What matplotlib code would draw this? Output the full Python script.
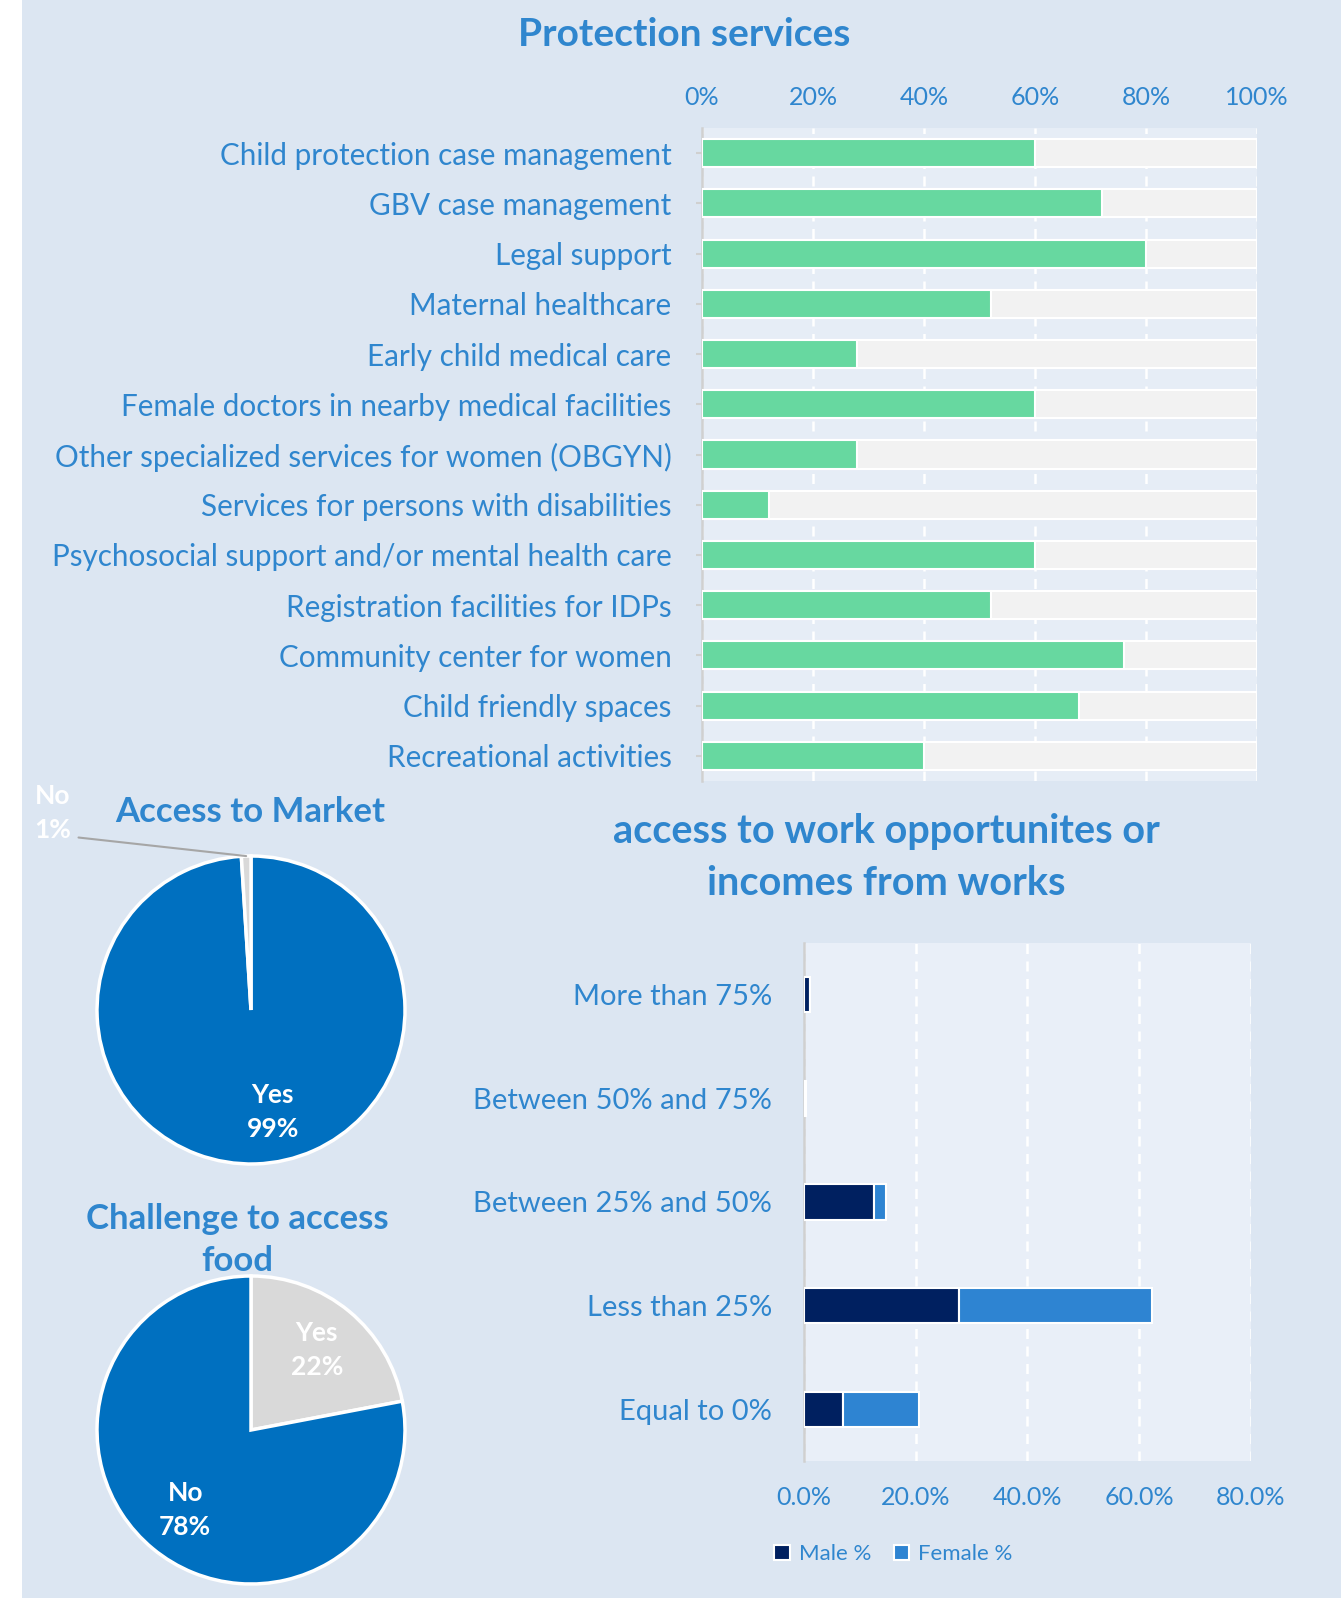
import matplotlib
matplotlib.use('Agg')
import matplotlib.pyplot as plt
from matplotlib.patches import FancyBboxPatch
import numpy as np

plt.rcParams['font.family'] = ['Lato', 'DejaVu Sans']

# ---- data ----
services = ['Child protection case management', 'GBV case management', 'Legal support',
            'Maternal healthcare', 'Early child medical care',
            'Female doctors in nearby medical facilities',
            'Other specialized services for women (OBGYN)',
            'Services for persons with disabilities',
            'Psychosocial support and/or mental health care',
            'Registration facilities for IDPs', 'Community center for women',
            'Child friendly spaces', 'Recreational activities']
service_pct = [60, 72, 80, 52, 28, 60, 28, 12, 60, 52, 76, 68, 40]
service_ticks = [0, 20, 40, 60, 80, 100]

market_labels = ['Yes', 'No']
market_pct = [99, 1]

food_labels = ['Yes', 'No']
food_pct = [22, 78]

work_cats = ['More than 75%', 'Between 50% and 75%', 'Between 25% and 50%',
             'Less than 25%', 'Equal to 0%']
male_pct = [1.1, 0.4, 12.6, 27.7, 7.0]
female_pct = [0.0, 0.0, 2.0, 34.6, 13.5]
work_ticks = [0, 20, 40, 60, 80]

# ---- styles ----
W, H = 1341, 1598
BG = '#DCE6F2'
PLOT_BG = '#E6EDF6'
TXT = '#2F86CE'
GREEN = '#67D8A0'
REST = '#F2F2F2'
BLUE = '#0070C0'
GREY = '#D9D9D9'
MALE = '#002060'
FEMALE = '#2E84D2'

fig = plt.figure(figsize=(W / 100, H / 100), dpi=100)
fig.patch.set_facecolor('white')
fig.patches.append(FancyBboxPatch((22 / W, -0.02), (W - 22) / W + 0.02, 1.04,
                                  boxstyle='round,pad=0,rounding_size=0.014',
                                  transform=fig.transFigure, facecolor=BG,
                                  edgecolor='none', zorder=-10,
                                  mutation_aspect=W / H))


def rect(left, top, right, bottom):
    return [left / W, 1 - bottom / H, (right - left) / W, (bottom - top) / H]


def ftext(x, y, s, **kw):
    fig.text(x / W, 1 - y / H, s, **kw)


# ---- protection services ----
ax = fig.add_axes(rect(702, 128, 1257, 781))
ax.set_facecolor(PLOT_BG)
y = np.arange(len(services))
ax.barh(y, [100] * len(services), height=0.56, color=REST, edgecolor='white', linewidth=1.5, zorder=2)
ax.barh(y, service_pct, height=0.56, color=GREEN, edgecolor='white', linewidth=1.5, zorder=3)
ax.set_xlim(0, 100)
ax.set_ylim(len(services) - 0.5, -0.5)
ax.set_yticks(y)
ax.set_yticklabels(services, fontsize=21.3, color=TXT)
ax.set_xticks(service_ticks)
ax.set_xticklabels([f'{t}%' for t in service_ticks], fontsize=18, color=TXT)
ax.xaxis.tick_top()
ax.tick_params(axis='x', length=0, pad=14)
ax.tick_params(axis='y', length=8, width=1.5, color='#D0D0D0', direction='inout', pad=18)
ax.grid(axis='x', color='white', linestyle=(0, (4, 3)), linewidth=1.8, zorder=1)
ax.set_axisbelow(True)
for s in ['top', 'right', 'bottom']:
    ax.spines[s].set_visible(False)
ax.spines['left'].set_color('#D0D0D0')
ax.spines['left'].set_linewidth(1.8)
ftext(684, 35, 'Protection services', fontsize=28, fontweight='bold', color=TXT,
      ha='center', va='center')

# ---- access to market pie ----
R = 154
LIM = 1.4
ax1 = fig.add_axes(rect(251 - LIM * R, 1010 - LIM * R, 251 + LIM * R, 1010 + LIM * R))
wedges, texts = ax1.pie(market_pct, colors=[BLUE, GREY], startangle=90, counterclock=False,
                        labels=[f'{l}\n{p}%' for l, p in zip(market_labels, market_pct)],
                        labeldistance=0.66, radius=1,
                        wedgeprops=dict(edgecolor='white', linewidth=2.5),
                        textprops=dict(color='white', fontsize=19, fontweight='bold',
                                       ha='center', va='center', linespacing=1.5))
ax1.set_xlim(-LIM, LIM)
ax1.set_ylim(-LIM, LIM)
ax1.set_aspect('equal')
ax1.axis('off')
# Excel nudges the big slice label a little to the right
tx, ty = texts[0].get_position()
texts[0].set_position((tx + 0.12, ty))
# outside label for the small slice
w = wedges[1]
mid = np.deg2rad((w.theta1 + w.theta2) / 2)
texts[1].set_visible(False)
ax1.annotate('', xy=(np.cos(mid), np.sin(mid)), xytext=(-1.12, 1.12),
             arrowprops=dict(arrowstyle='-', color='#A6A6A6', lw=1.5,
                             shrinkA=0, shrinkB=0))
ax1.text(-1.29, 1.28, f'{market_labels[1]}\n{market_pct[1]}%', color='white', fontsize=19,
         fontweight='bold', ha='center', va='center', linespacing=1.5)
ftext(250, 812, 'Access to Market', fontsize=25, fontweight='bold', color=TXT,
      ha='center', va='center')

# ---- challenge to access food pie ----
ax2 = fig.add_axes(rect(251 - LIM * R, 1430 - LIM * R, 251 + LIM * R, 1430 + LIM * R))
ax2.pie(food_pct, colors=[GREY, BLUE], startangle=90, counterclock=False,
        labels=[f'{l}\n{p}%' for l, p in zip(food_labels, food_pct)],
        labeldistance=0.67, radius=1,
        wedgeprops=dict(edgecolor='white', linewidth=2.5),
        textprops=dict(color='white', fontsize=19, fontweight='bold',
                       ha='center', va='center', linespacing=1.5))
ax2.set_xlim(-LIM, LIM)
ax2.set_ylim(-LIM, LIM)
ax2.set_aspect('equal')
ax2.axis('off')
ftext(237, 1240, 'Challenge to access\nfood', fontsize=25, fontweight='bold', color=TXT,
      ha='center', va='center', linespacing=1.4)

# ---- access to work ----
ax3 = fig.add_axes(rect(804, 943, 1251, 1461))
ax3.set_facecolor('#E9EFF8')
yy = np.arange(len(work_cats))
ax3.barh(yy, male_pct, height=0.34, color=MALE, edgecolor='white', linewidth=1.5,
         label='Male %', zorder=3)
ax3.barh(yy, female_pct, left=male_pct, height=0.34, color=FEMALE, edgecolor='white',
         linewidth=1.5, label='Female %', zorder=3)
ax3.set_xlim(0, 80)
ax3.set_ylim(len(work_cats) - 0.5, -0.5)
ax3.set_yticks(yy)
ax3.set_yticklabels(work_cats, fontsize=21, color=TXT)
ax3.set_xticks(work_ticks)
ax3.set_xticklabels([f'{t:.1f}%' for t in work_ticks], fontsize=18, color=TXT)
ax3.tick_params(axis='both', length=0)
ax3.tick_params(axis='y', pad=23)
ax3.tick_params(axis='x', pad=18)
ax3.grid(axis='x', color='white', linestyle=(0, (4, 3)), linewidth=1.8, zorder=1)
ax3.set_axisbelow(True)
for s in ['top', 'right', 'bottom']:
    ax3.spines[s].set_visible(False)
ax3.spines['left'].set_color('#D0D0D0')
ax3.spines['left'].set_linewidth(1.8)
leg = ax3.legend(loc='center', bbox_to_anchor=(0.2, -0.18), ncol=2, frameon=False,
                 fontsize=16, labelcolor=TXT, handlelength=0.7, handleheight=0.7,
                 handletextpad=0.4, columnspacing=1.0)
ftext(886, 858, 'access to work opportunites or\nincomes from works', fontsize=28.5,
      fontweight='bold', color=TXT, ha='center', va='center', linespacing=1.5)

fig.savefig('out.png', dpi=100, facecolor=fig.get_facecolor())
